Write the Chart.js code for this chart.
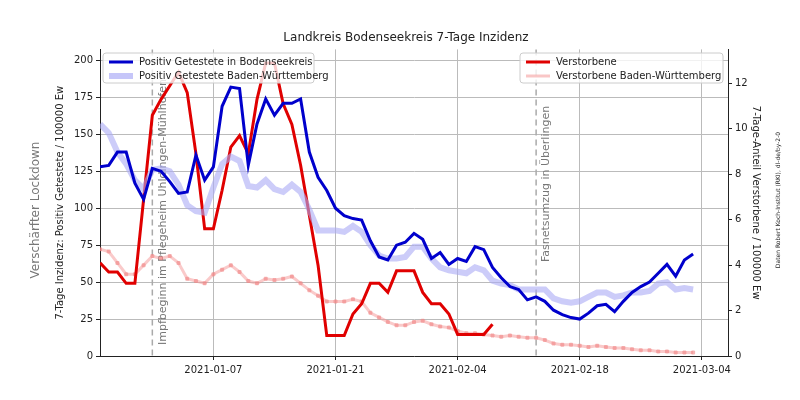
<!DOCTYPE html>
<html><head><meta charset="utf-8">
<script src="https://cdn.jsdelivr.net/npm/chart.js@4"></script>
<style>body{margin:0;background:#fff}</style>
</head><body><canvas id="c" width="800" height="400"></canvas>
<script>
const startDate = '2020-12-25';
const tickDays = [13, 27, 41, 55, 69];
const tickLabels = ['2021-01-07','2021-01-21','2021-02-04','2021-02-18','2021-03-04'];
const bodensee = [128,129,138,138,117,106,127,125,118,110,111,136,119,128,169,182,181,129,157,174,163,171,171,174,138,121,112,100,95,93,92,78,67,65,75,77,83,79,66,70,62,66,64,74,72,60,53,47,45,38,40,37,31,28,26,25,29,34,35,30,37,43,47,50,56,62,54,65,69];
const bw = [157,151,138,130,119,113,126,127,125,116,102,98,97,114,130,135,132,115,114,119,113,111,116,111,99,85,85,85,84,88,84,75,68,66,66,67,74,74,66,60,58,57,56,60,58,51,49,48,45,45,45,45,39,37,36,37,40,43,43,40,41,43,43,44,49,50,45,46,45];
const deaths = [4.1,3.7,3.7,3.2,3.2,6.9,10.6,11.3,11.9,12.5,11.6,8.9,5.6,5.6,7.3,9.2,9.7,8.9,11.3,12.9,12.9,11.1,10.2,8.4,6.2,4.0,0.9,0.9,0.9,1.85,2.3,3.2,3.2,2.8,3.75,3.75,3.75,2.8,2.3,2.3,1.85,0.95,0.95,0.95,0.95,1.4];
const deathsBW = [4.7,4.6,4.1,3.6,3.6,4.0,4.4,4.3,4.4,4.1,3.4,3.3,3.2,3.6,3.8,4.0,3.7,3.3,3.2,3.4,3.35,3.4,3.5,3.2,2.9,2.65,2.4,2.4,2.4,2.5,2.4,1.9,1.7,1.5,1.35,1.35,1.5,1.55,1.4,1.3,1.25,1.1,1.0,1.0,0.95,0.9,0.85,0.9,0.85,0.8,0.8,0.7,0.55,0.5,0.5,0.45,0.4,0.45,0.4,0.35,0.35,0.3,0.25,0.25,0.2,0.2,0.15,0.15,0.15];
const eventDays = [6, 50];
const eventLabels = ['Impfbeginn im Pflegeheim Uhldingen-Mühlhofen', 'Fasnetsumzug in Überlingen'];

const pts = a => a.map((v,i)=>({x:i,y:v}));
const F = 'DejaVu Sans';
const extras = {
  id:'extras',
  beforeDatasetsDraw(ch){
    const c=ch.ctx, x=ch.scales.x, a=ch.chartArea;
    c.save();
    c.strokeStyle='#aaa'; c.lineWidth=1.5; c.setLineDash([6,4]);
    eventDays.forEach(d=>{const px=x.getPixelForValue(d);c.beginPath();c.moveTo(px,a.top);c.lineTo(px,a.bottom);c.stroke();});
    c.setLineDash([]);
    c.fillStyle='#777'; c.font='11px '+F; c.textAlign='left'; c.textBaseline='top';
    eventDays.forEach((d,i)=>{const px=x.getPixelForValue(d);c.save();c.translate(px+5,i==0?345:262);c.rotate(-Math.PI/2);c.fillText(eventLabels[i],0,0);c.restore();});
    c.restore();
  },
  afterDraw(ch){
    const c=ch.ctx;
    c.save();
    c.fillStyle='#777'; c.font='12px '+F; c.textAlign='center'; c.textBaseline='middle';
    c.save();c.translate(36,210);c.rotate(-Math.PI/2);c.fillText('Verschärfter Lockdown',0,0);c.restore();
    c.fillStyle='#222'; c.font='6px '+F;
    c.save();c.translate(778,200);c.rotate(-Math.PI/2);c.fillText('Daten Robert Koch-Institut (RKI), dl-de/by-2-0',0,0);c.restore();
    function box(x,y,w,h,items){
      c.fillStyle='rgba(255,255,255,0.8)'; c.strokeStyle='#ccc'; c.lineWidth=1;
      c.beginPath(); c.roundRect(x,y,w,h,3); c.fill(); c.stroke();
      c.font='10px '+F; c.textAlign='left'; c.textBaseline='middle';
      items.forEach((it,i)=>{const yy=y+9+i*14;c.strokeStyle=it.c;c.lineWidth=it.w;c.beginPath();c.moveTo(x+6,yy);c.lineTo(x+30,yy);c.stroke();c.fillStyle='#222';c.fillText(it.t,x+36,yy);});
    }
    box(103,53,211,30,[{c:'#0000cc',w:3,t:'Positiv Getestete in Bodenseekreis'},{c:'rgba(160,160,245,0.6)',w:6,t:'Positiv Getestete Baden-Württemberg'}]);
    box(520,53,203,30,[{c:'#e00000',w:3,t:'Verstorbene'},{c:'rgba(245,160,160,0.6)',w:3,t:'Verstorbene Baden-Württemberg'}]);
    c.restore();
  }
};
new Chart(document.getElementById('c'),{
  type:'line',
  data:{datasets:[
    {data:pts(bodensee),borderColor:'#0000cc',borderWidth:3,pointRadius:0,yAxisID:'y'},
    {data:pts(bw),borderColor:'rgba(170,170,245,0.6)',borderWidth:6,pointRadius:0,yAxisID:'y'},
    {data:pts(deaths),borderColor:'#e00000',borderWidth:3,pointRadius:0,yAxisID:'y2'},
    {data:pts(deathsBW),borderColor:'rgba(245,150,150,0.5)',borderWidth:3,pointRadius:2,pointStyle:'cross',pointBorderColor:'rgba(240,130,130,0.6)',yAxisID:'y2'}
  ]},
  options:{
    responsive:false, animation:false,
    layout:{padding:{top:0,bottom:0,left:50,right:38}},
    plugins:{legend:{display:false},tooltip:{enabled:false},
      title:{display:true,text:'Landkreis Bodenseekreis 7-Tage Inzidenz',font:{family:F,size:12,weight:'normal'},color:'#222',padding:{top:31,bottom:4}}},
    scales:{
      x:{type:'linear',min:0,max:72,
        afterBuildTicks(s){s.ticks=tickDays.map(v=>({value:v}));},
        ticks:{callback:(v)=>tickLabels[tickDays.indexOf(v)],font:{family:F,size:10},color:'#222',maxRotation:0,padding:4},
        grid:{color:'#bbb',drawTicks:true,tickLength:4,tickColor:'#222'},border:{color:'#222'},
        afterFit(s){s.height=44;}},
      y:{position:'left',min:0,max:207.5,
        afterBuildTicks(s){s.ticks=[0,25,50,75,100,125,150,175,200].map(v=>({value:v}));},
        ticks:{font:{family:F,size:10},color:'#222'},
        grid:{color:'#bbb',tickLength:4,tickColor:'#222'},border:{color:'#222'},
        title:{display:true,text:'7-Tage Inzidenz: Positiv Getestete / 100000 Ew',font:{family:F,size:10},color:'#222'},
        afterFit(s){s.width=50;}},
      y2:{position:'right',min:0,max:13.5,
        afterBuildTicks(s){s.ticks=[0,2,4,6,8,10,12].map(v=>({value:v}));},
        ticks:{font:{family:F,size:10},color:'#222'},
        grid:{drawOnChartArea:false,tickLength:4,tickColor:'#222'},border:{color:'#222'},
        title:{display:true,text:'7-Tage-Anteil Verstorbene / 100000 Ew',font:{family:F,size:10},color:'#222',padding:{top:0,bottom:0}},
        afterFit(s){s.width=34;}}
    }
  },
  plugins:[extras]
});
</script></body></html>
